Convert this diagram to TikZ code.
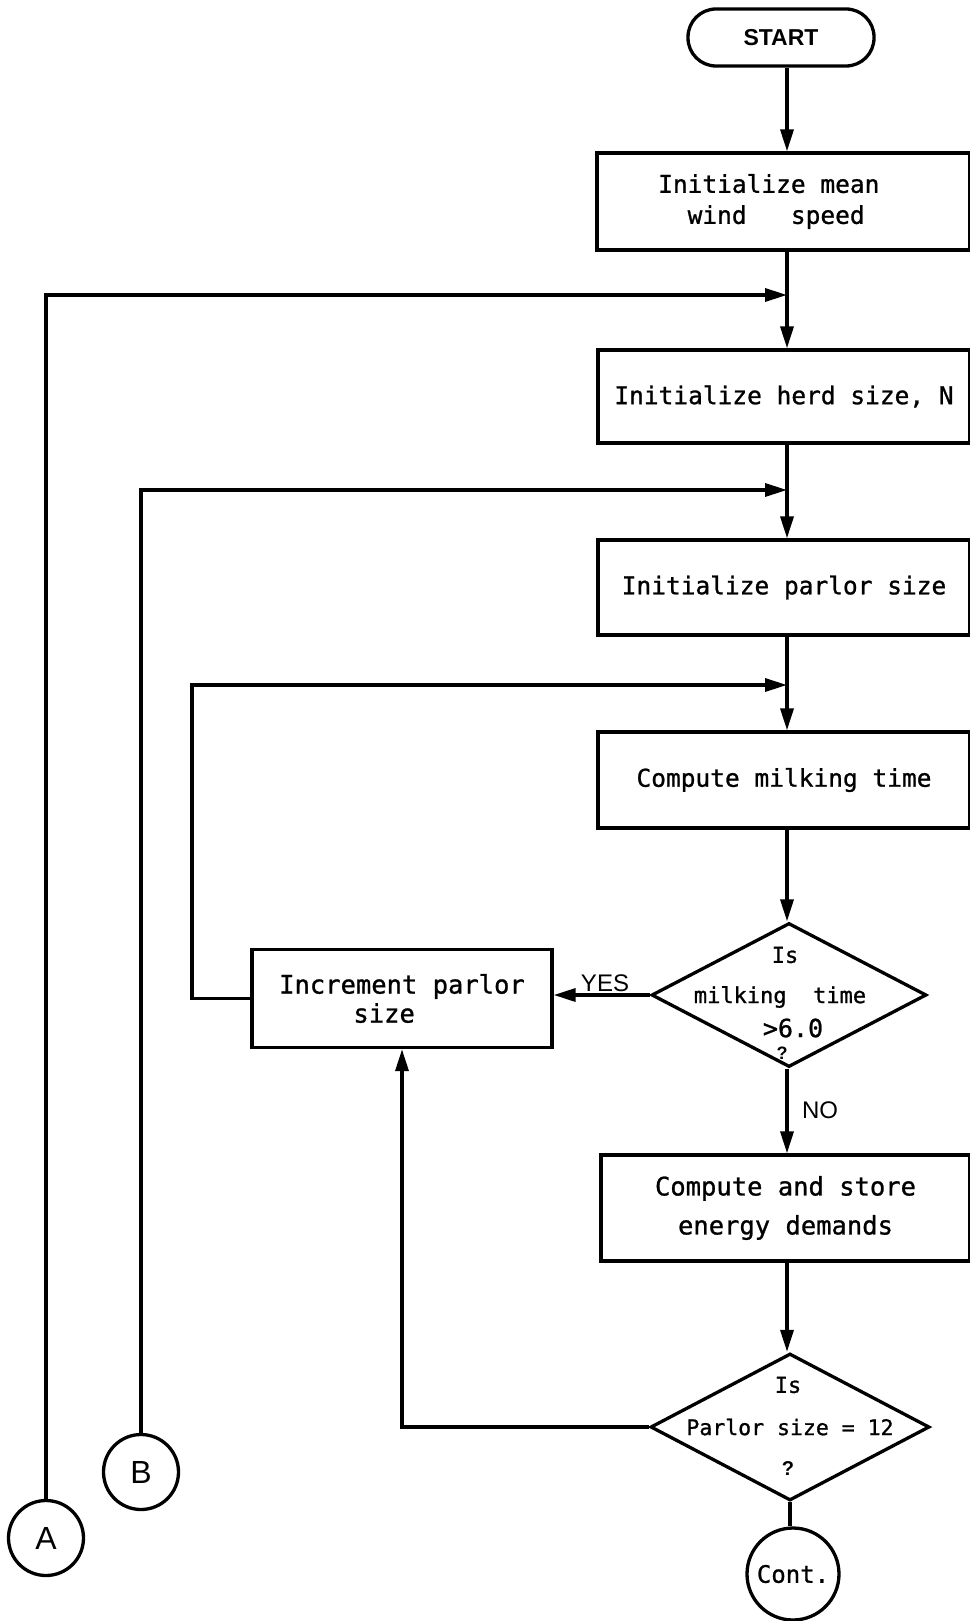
\documentclass[tikz,border=0pt]{standalone}
\usepackage{fontspec}
\setmainfont{Liberation Sans}
\newfontfamily\monof[FakeBold=1.0]{DejaVu Sans Mono}
\usetikzlibrary{arrows.meta,shapes.geometric}
\begin{document}
\begin{tikzpicture}[x=1pt,y=-1pt,
  line width=3.4pt,
  proc/.style={draw, rectangle, inner sep=0pt, align=center, line width=3.3pt,
    font=\monof\fontsize{24.5}{31}\selectfont},
  dia/.style={draw, diamond, inner sep=0pt, line width=3.3pt},
  conn/.style={draw, circle, inner sep=0pt, minimum size=75pt, line width=3.3pt,
    font=\fontsize{32}{32}\selectfont},
  dtext/.style={inner sep=0pt, font=\monof\fontsize{22}{22}\selectfont},
  lbl/.style={inner sep=0pt, font=\fontsize{24}{24}\selectfont},
  flow/.style={-{Triangle[length=22pt,width=13pt]}, line width=3.4pt}]
\useasboundingbox[fill=white] (0,0) rectangle (969,1621);

\coordinate (mx) at (787,0);
\coordinate (lp) at (192,0);
\coordinate (j1) at (787,295);
\coordinate (j2) at (787,490);
\coordinate (j3) at (787,685);

\node[draw, rectangle, rounded corners=28pt, minimum width=186pt, minimum height=57pt,
  line width=3.3pt, font=\bfseries\fontsize{23}{23}\selectfont] (start) at (781,37.5) {START};

\node[proc, minimum width=373pt, minimum height=97pt] (b1) at (783.5,201.5)
  {Initialize mean\hspace*{1.2em}\\wind\ \ \ speed\hspace*{0.6em}};
\node[proc, minimum width=372pt, minimum height=93pt] (b2) at (784,396.5)
  {Initialize herd size, N};
\node[proc, minimum width=372pt, minimum height=95pt] (b3) at (784,587.5)
  {Initialize parlor size};
\node[proc, minimum width=372pt, minimum height=96pt] (b4) at (784,780)
  {Compute milking time};

\node[dia, minimum width=275pt, minimum height=144pt] (d1) at (789,995) {};
\node[dtext] (d1a) at (785,955) {Is};
\node[dtext] (d1b) at (780,997) {milking\ \ time};
\node[inner sep=0pt, font=\monof\fontsize{25}{25}\selectfont] (d1c) at (793,1028) {>6.0};
\node[inner sep=0pt, font=\bfseries\fontsize{18}{18}\selectfont] (d1d) at (782,1053) {?};

\node[proc, minimum width=300pt, minimum height=98pt, font=\monof\fontsize{25.5}{29}\selectfont]
  (inc) at (402,998.5) {Increment parlor\\size\hspace*{1.4em}};

\node[proc, minimum width=369pt, minimum height=106pt, font=\monof\fontsize{25.5}{39}\selectfont]
  (b5) at (785.5,1208) {Compute and store\\energy demands};

\node[dia, minimum width=279pt, minimum height=147pt] (d2) at (790,1427) {};
\node[dtext] (d2a) at (788,1385) {Is};
\node[inner sep=0pt, font=\monof\fontsize{21.5}{21.5}\selectfont] (d2b) at (790,1427) {Parlor size = 12};
\node[inner sep=0pt, font=\bfseries\fontsize{20}{20}\selectfont] (d2c) at (788,1468) {?};

\node[conn, minimum size=92pt, font=\monof\fontsize{24}{24}\selectfont] (cont) at (793,1574) {Cont.};
\node[conn] (A) at (46,1538) {A};
\node[conn] (B) at (141,1472) {B};

\node[lbl] (yes) at (605,983) {YES};
\node[lbl] (no) at (820,1110) {NO};

\draw[flow] (start.south -| mx) -- (b1.north -| mx);
\draw[flow] (b1.south -| mx) -- (b2.north -| mx);
\draw[flow] (b2.south -| mx) -- (b3.north -| mx);
\draw[flow] (b3.south -| mx) -- (b4.north -| mx);
\draw[flow] (b4.south -| mx) -- (d1.north -| mx);
\draw[flow] (d1.south -| mx) -- (b5.north -| mx);
\draw[flow] (b5.south -| mx) -- (d2.north -| mx);
\draw (d2.south) -- (d2.south |- cont.north);

\draw[flow] (A.north) -- (A.north |- j1) -- (j1);
\draw[flow] (B.north) -- (B.north |- j2) -- (j2);
\draw[flow] (inc.west) -- (inc.west -| lp) -- (lp |- j3) -- (j3);
\draw[flow] (d1.west) -- (d1.west -| inc.east);
\draw[flow] (d2.west) -- (d2.west -| inc.south) -- (inc.south);
\end{tikzpicture}
\end{document}
